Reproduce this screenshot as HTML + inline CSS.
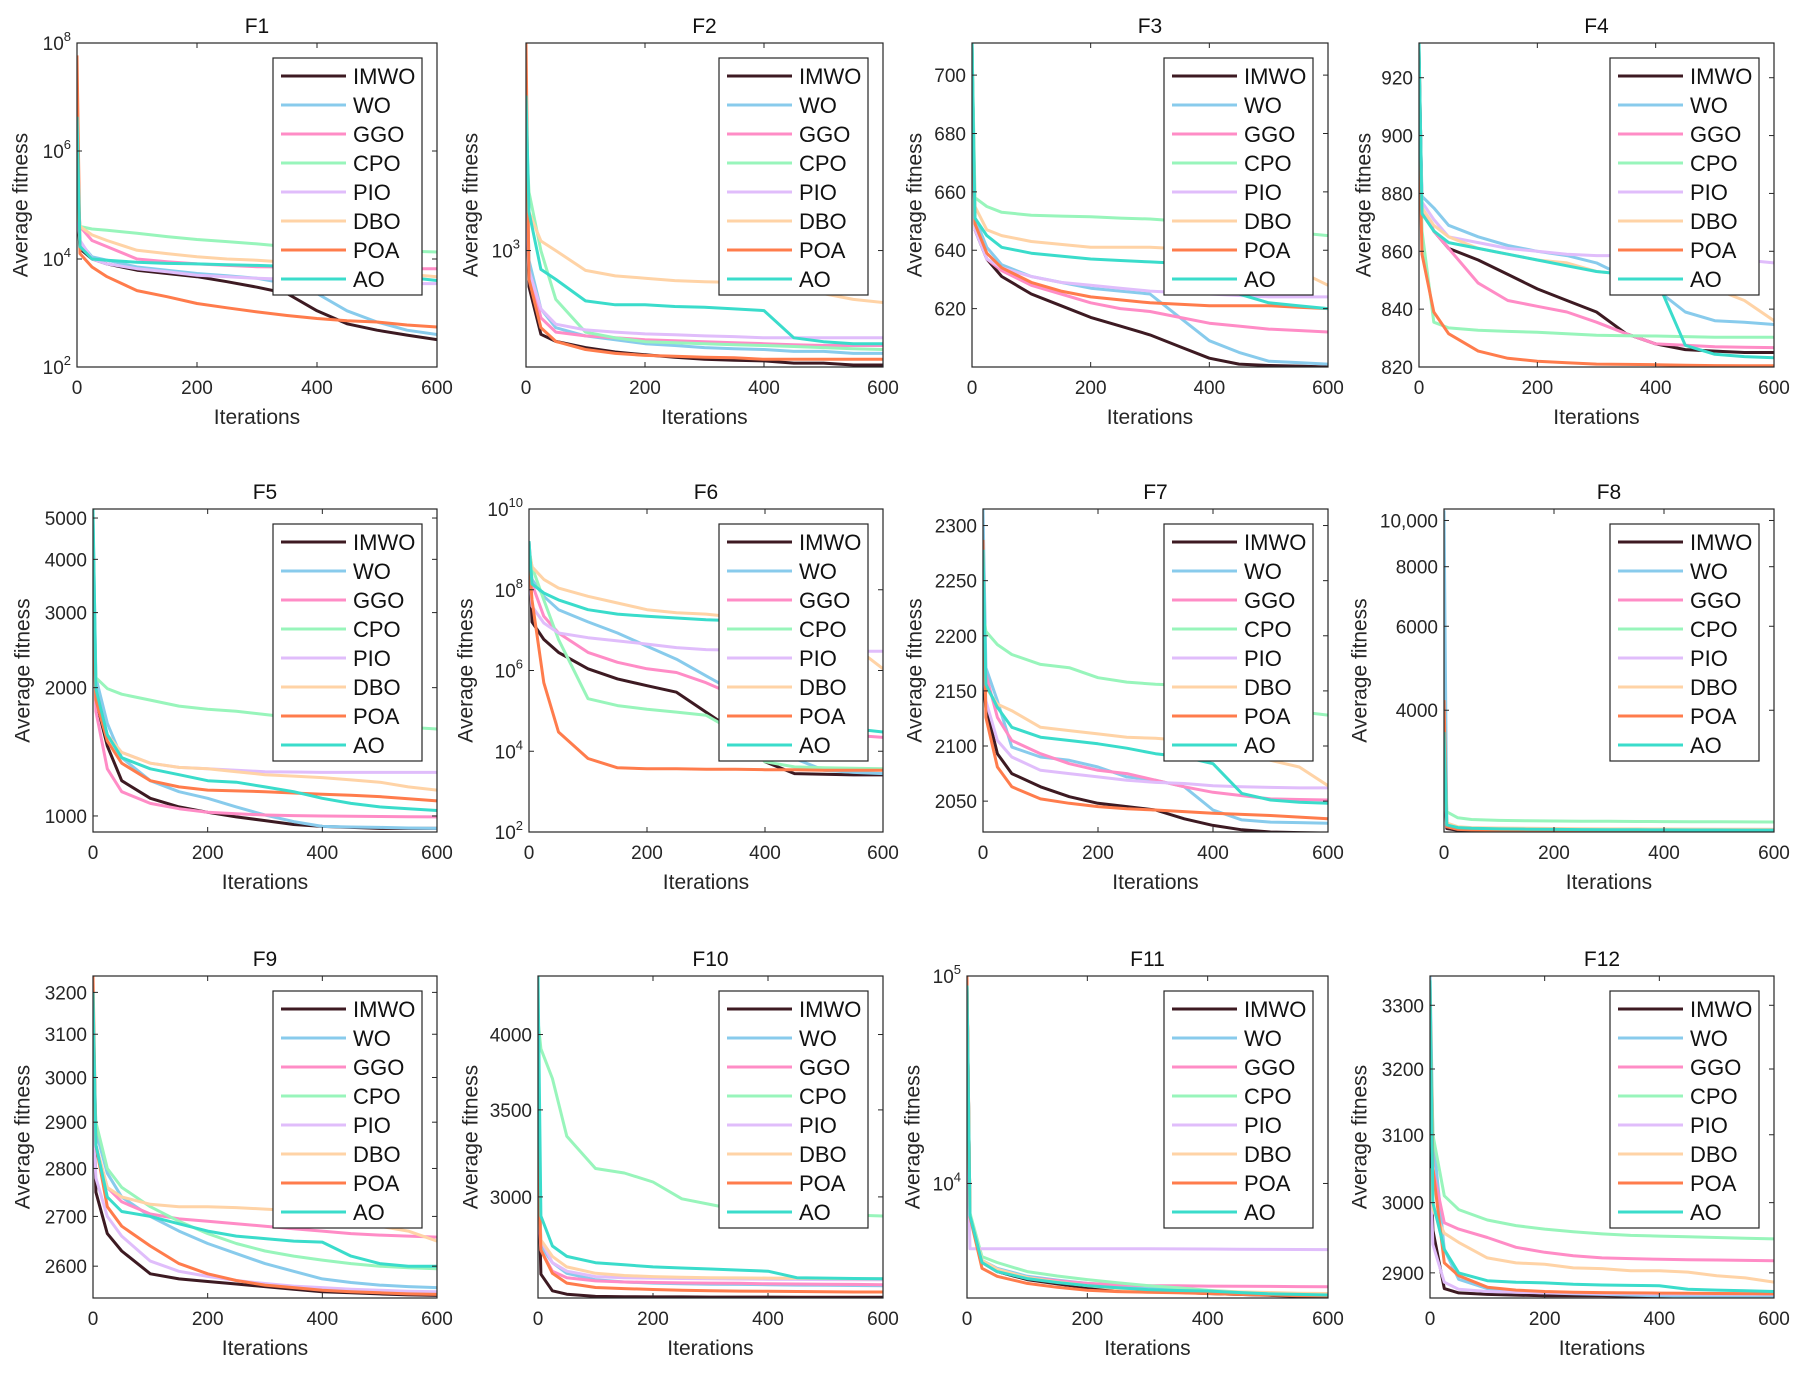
<!DOCTYPE html>
<html><head><meta charset="utf-8"><style>
html,body{margin:0;padding:0;background:#fff}
svg{display:block;font-family:"Liberation Sans",Arial,sans-serif}
</style></head><body>
<svg id="fig" width="1800" height="1376" viewBox="0 0 1800 1376" xmlns="http://www.w3.org/2000/svg"></svg>
<script>
const iterations = [0,5,25,50,100,150,200,250,300,350,400,450,500,550,600];
const seriesNames = ["IMWO","WO","GGO","CPO","PIO","DBO","POA","AO"];
const seriesColors = ["#3d1a22","#88cbec","#ff8cc6","#98f5bb","#e0bdfb","#ffd3a6","#ff7c4c","#3adccb"];
const axisTickLabelsX = ["0","200","400","600"];

const f1Values = [
 [1e5,1.55e4,1e4,8.1e3,6.2e3,5.4e3,4.7e3,3.8e3,3e3,2.3e3,1.1e3,630,480,390,320],
 [1.6e5,2e4,1.1e4,9.5e3,7.1e3,6.2e3,5.4e3,4.9e3,4.4e3,3.5e3,2.3e3,1.1e3,680,480,400],
 [3.2e5,4e4,2.2e4,1.7e4,1e4,8.9e3,8.1e3,7.6e3,7.2e3,7.1e3,7.1e3,6.9e3,6.8e3,6.6e3,6.6e3],
 [2e5,4e4,3.6e4,3.4e4,3e4,2.6e4,2.3e4,2.1e4,1.9e4,1.7e4,1.55e4,1.5e4,1.45e4,1.4e4,1.35e4],
 [7.9e4,2.2e4,1e4,8.1e3,6.6e3,5.8e3,5e3,4.7e3,4.4e3,4.2e3,4e3,3.8e3,3.6e3,3.5e3,3.5e3],
 [1e5,4e4,2.8e4,2.2e4,1.45e4,1.26e4,1.1e4,1e4,9.5e3,8.7e3,8.1e3,7.6e3,6.2e3,5.2e3,4.7e3],
 [5.9e7,1.26e4,7.1e3,4.7e3,2.6e3,2e3,1.5e3,1.25e3,1.05e3,900,790,720,680,600,550],
 [4.3e6,1.7e4,1e4,9.5e3,8.7e3,8.3e3,8.1e3,7.8e3,7.6e3,7.3e3,7.1e3,6.3e3,5.4e3,4.6e3,4e3]];
const f2Values = [
 [3160,650,370,340,316,300,290,282,275,272,270,263,263,257,257],
 [4000,890,500,400,363,347,331,324,316,312,309,302,302,295,295],
 [2000,790,450,380,363,355,347,343,339,335,331,327,324,324,324],
 [4000,2000,1000,560,380,355,339,335,331,327,324,320,316,312,309],
 [2500,790,500,417,390,380,372,368,363,360,355,355,355,355,355],
 [2000,1580,1120,1000,790,740,720,700,690,685,680,630,600,560,540],
 [11700,710,400,340,309,295,288,285,282,280,275,275,275,275,275],
 [6300,1580,800,710,550,525,525,515,510,500,490,355,339,331,331]];
const f3Values = [
 [711,647,637,631,625,621,617,614,611,607,603,601,600.5,600.3,600],
 [711,651,641,635,631,629,627,626,625,617,609,605,602,601.5,601],
 [700,649,637,633,628,625,622,620,619,617,615,614,613,612.5,612],
 [711,658,655,653,652,651.7,651.5,651,650.7,650,649,647,647,646,645],
 [705,647,637,634,631,629,628,627,626,625.5,625,624.5,624,624,624],
 [705,655,647,645,643,642,641,641,641,640.5,640,639,637,633,628],
 [700,649,639,634,629,626,624,623,622,621.5,621,621,621,620.5,620],
 [711,651,645,641,639,638,637,636.5,636,635.5,635,625,622,621,620]];
const f4Values = [
 [930,875,867,861,857,852,847,843,839,831.5,828,826,825.5,825,825],
 [925,879,875,869,865,862,860,858.5,856,851,847,839,836,835.5,834.7],
 [915,875,867,861,849,843,841,839,835.5,831.5,828,827.5,827,826.8,826.7],
 [920,867,835.5,833.5,832.7,832.3,832,831.5,831,830.8,830.7,830.5,830.3,830.3,830.3],
 [915,877,871,865,863,861,860,859,858.5,858.5,858,857,857,857,856],
 [920,875,869,865,861,859,857,856,853,852,851,849,847,843,836],
 [905,859,839,831.5,825.5,823,822,821.5,821,820.9,820.8,820.6,820.5,820.4,820.4],
 [932,873,867,863,861,859,857,855,853,852,851,827.5,824.4,823.6,823.2]];
const f5Values = [
 [4500,1870,1460,1210,1100,1050,1020,995,975,955,945,940,935,935,935],
 [5000,2110,1650,1370,1210,1140,1100,1050,1005,970,945,942,940,937,935],
 [4000,1760,1290,1140,1070,1040,1020,1012,1005,1002,1000,998,997,996,995],
 [4000,2110,1990,1930,1870,1810,1780,1760,1730,1700,1670,1650,1630,1615,1600],
 [3500,1990,1550,1410,1330,1300,1290,1280,1270,1268,1265,1265,1265,1265,1265],
 [3800,1930,1550,1410,1330,1300,1290,1270,1250,1240,1230,1215,1200,1170,1150],
 [3000,1870,1500,1330,1210,1170,1150,1145,1140,1132,1125,1118,1110,1098,1085],
 [5250,1990,1550,1370,1290,1250,1210,1200,1170,1140,1100,1070,1050,1040,1030]];
const f6Values = [
 [1.6e9,1.6e7,5.9e6,2.8e6,1.1e6,6.2e5,4.2e5,2.9e5,9.3e4,3e4,5.5e3,2.8e3,2.7e3,2.6e3,2.6e3],
 [1e9,1.8e8,6.9e7,3.2e7,1.6e7,8.5e6,4e6,1.9e6,7.4e5,2.9e5,4.4e4,6.6e3,3.4e3,3e3,2.8e3],
 [1.6e9,1.4e8,2.2e7,8.5e6,2.8e6,1.6e6,1.1e6,8.9e5,5e5,2.4e5,1.1e5,4.4e4,3e4,2.5e4,2.2e4],
 [1e9,3.7e8,5.6e7,5.9e6,2e5,1.35e5,1.1e5,9.3e4,7.8e4,3e4,5.5e3,4.1e3,3.9e3,3.8e3,3.7e3],
 [3.2e8,3.9e7,1.5e7,8.5e6,6.5e6,5.4e6,4.5e6,3.7e6,3.3e6,3.2e6,3.1e6,3.1e6,3e6,3e6,3e6],
 [1e9,3.7e8,1.8e8,1.1e8,6.9e7,4.7e7,3.2e7,2.7e7,2.5e7,2.1e7,1.8e7,1.26e7,8.5e6,4e6,1.1e6],
 [6.3e8,5.6e7,5e5,3e4,6.6e3,3.9e3,3.7e3,3.7e3,3.6e3,3.6e3,3.5e3,3.5e3,3.4e3,3.4e3,3.4e3],
 [1.6e9,1.4e8,8.3e7,5.6e7,3.2e7,2.5e7,2.2e7,2e7,1.8e7,1.7e7,5.9e6,4.2e5,5.2e4,3.6e4,3e4]];
const f7Values = [
 [2159,2135,2093,2075,2063,2054,2048,2045,2042,2034,2028,2024,2022,2021.5,2021],
 [2315,2171,2141,2099,2090,2087,2081,2072,2069,2063,2042,2033,2031,2030.5,2030],
 [2201,2165,2126,2105,2093,2084,2078,2075,2069,2063,2058,2055,2052,2051.5,2051],
 [2222,2204,2192,2183,2174,2171,2162,2158,2156,2155,2150,2141,2135,2131,2128],
 [2183,2141,2105,2090,2078,2075,2072,2069,2067,2066,2064,2063,2062.5,2062,2062],
 [2171,2153,2138,2132,2117,2114,2111,2108,2107,2105,2099,2093,2087,2081,2064],
 [2287,2126,2081,2063,2052,2048,2045,2043,2042,2040.5,2039,2038,2037,2035.5,2034],
 [2278,2156,2135,2117,2108,2105,2102,2098,2093,2090,2084,2057,2051,2049,2048]];
const f8Values = [
 [3000,2260,2240,2235,2232,2230,2229,2228,2228,2227,2227,2226,2226,2226,2226],
 [10500,2300,2260,2250,2245,2240,2238,2236,2235,2234,2233,2232,2232,2231,2231],
 [3500,2280,2255,2250,2248,2246,2245,2244,2244,2243,2243,2242,2242,2242,2242],
 [3500,2450,2380,2360,2350,2345,2343,2341,2340,2338,2336,2335,2334,2333,2332],
 [3200,2300,2270,2262,2258,2255,2254,2253,2252,2252,2251,2251,2250,2250,2250],
 [3300,2320,2280,2270,2265,2262,2260,2258,2256,2255,2254,2253,2252,2251,2250],
 [4200,2280,2250,2245,2242,2240,2239,2238,2237,2237,2236,2236,2236,2236,2236],
 [3600,2300,2270,2262,2256,2252,2250,2248,2247,2246,2245,2244,2244,2243,2243]];
const f9Values = [
 [3000,2750,2665,2630,2585,2575,2570,2565,2560,2555,2550,2548,2546,2544,2543],
 [3150,2880,2790,2740,2700,2670,2645,2625,2605,2590,2575,2568,2563,2560,2558],
 [3000,2850,2760,2730,2705,2695,2690,2685,2680,2675,2670,2665,2662,2660,2658],
 [3050,2900,2800,2760,2720,2690,2665,2645,2630,2620,2612,2605,2600,2597,2595],
 [2900,2780,2700,2660,2610,2590,2580,2572,2566,2561,2558,2555,2553,2551,2550],
 [3100,2850,2760,2740,2725,2720,2720,2718,2715,2712,2700,2690,2680,2670,2650],
 [3240,2850,2720,2680,2640,2605,2585,2572,2563,2558,2553,2550,2548,2546,2545],
 [3200,2850,2740,2710,2700,2685,2670,2660,2655,2650,2648,2620,2605,2600,2600]];
const f10Values = [
 [3200,2616,2540,2525,2515,2514,2513,2513,2512,2512,2512,2511,2511,2511,2511],
 [3500,2750,2670,2620,2590,2580,2575,2572,2570,2569,2568,2566,2565,2564,2563],
 [3000,2730,2630,2600,2585,2580,2578,2576,2575,2574,2572,2571,2570,2569,2568],
 [4100,3900,3700,3340,3155,3130,3080,2990,2960,2930,2915,2910,2908,2905,2900],
 [3000,2780,2670,2630,2605,2600,2598,2596,2595,2594,2593,2592,2591,2590,2590],
 [3100,2780,2700,2650,2620,2610,2605,2602,2600,2599,2598,2597,2596,2595,2595],
 [3300,2730,2620,2575,2555,2550,2546,2543,2540,2539,2538,2537,2536,2535,2535],
 [4437,2900,2750,2700,2670,2660,2650,2645,2640,2635,2630,2600,2598,2596,2595]];
const f11Values = [
 [9e4,6900,4160,3760,3440,3280,3140,3080,3030,2990,2950,2920,2890,2860,2840],
 [9e4,7000,4260,3900,3570,3420,3300,3220,3140,3070,3000,2970,2940,2920,2900],
 [9e4,7000,4160,3760,3520,3400,3300,3250,3220,3210,3200,3195,3190,3185,3180],
 [9e4,7200,4440,4160,3760,3580,3440,3320,3220,3140,3060,3000,2960,2930,2900],
 [2e4,4850,4850,4850,4850,4845,4845,4840,4840,4835,4830,4820,4810,4805,4800],
 [9e4,7000,4260,3860,3520,3350,3220,3110,3060,3040,3030,3000,2980,2960,2950],
 [1e5,6900,3900,3570,3300,3160,3060,3010,2990,2970,2950,2920,2900,2880,2870],
 [9e4,7000,4160,3760,3480,3330,3220,3140,3080,3050,3030,2980,2940,2920,2900]];
const f12Values = [
 [3100,2960,2878,2872,2870,2869,2868,2868,2868,2867.5,2867.5,2867.3,2867.2,2867.1,2867],
 [3350,3100,2933,2891,2878,2874,2872,2871,2870,2869,2868,2867.5,2867,2866.5,2866],
 [3200,3050,2971,2962,2950,2936,2929,2924,2921,2920,2919,2918.5,2918,2917.5,2917],
 [3300,3100,3010,2990,2975,2967,2962,2958,2955,2953,2952,2951,2950,2949,2948],
 [3050,2940,2887,2877,2874,2873,2872,2871.5,2871,2870.8,2870.6,2870.4,2870.2,2870.1,2870],
 [3050,2990,2956,2943,2921,2914,2912,2907,2906,2903,2903,2901,2896,2893,2887],
 [3330,3050,2914,2896,2880,2876,2874,2873,2872.5,2872,2871.8,2871.5,2871.3,2871.1,2871],
 [3340,3000,2933,2900,2889,2887,2886,2884,2883,2882.5,2882,2877,2876,2875,2874]];

const panels = [
 {title:"F1",data:f1Values,l:77,r:437,t:43,b:367,log:true,ymin:100,ymax:1e8,ticks:[1e2,1e4,1e6,1e8],exp:true,ylx:21},
 {title:"F2",data:f2Values,l:526,r:883,t:43,b:367,log:true,ymin:251,ymax:11750,ticks:[1e3],exp:true,ylx:471},
 {title:"F3",data:f3Values,l:972,r:1328,t:43,b:367,log:false,ymin:600,ymax:711,ticks:[620,640,660,680,700],ylx:915},
 {title:"F4",data:f4Values,l:1419,r:1774,t:43,b:367,log:false,ymin:820,ymax:932,ticks:[820,840,860,880,900,920],ylx:1364},
 {title:"F5",data:f5Values,l:93,r:437,t:509,b:832,log:true,ymin:917,ymax:5250,ticks:[1000,2000,3000,4000,5000],ylx:23},
 {title:"F6",data:f6Values,l:529,r:883,t:509,b:832,log:true,ymin:100,ymax:1e10,ticks:[1e2,1e4,1e6,1e8,1e10],exp:true,ylx:466},
 {title:"F7",data:f7Values,l:983,r:1328,t:509,b:832,log:false,ymin:2022,ymax:2315,ticks:[2050,2100,2150,2200,2250,2300],ylx:915},
 {title:"F8",data:f8Values,l:1444,r:1774,t:509,b:832,log:true,ymin:2222,ymax:10570,ticks:[4000,6000,8000,10000],comma:true,ylx:1360},
 {title:"F9",data:f9Values,l:93,r:437,t:976,b:1298,log:true,ymin:2538,ymax:3240,ticks:[2600,2700,2800,2900,3000,3100,3200],ylx:23},
 {title:"F10",data:f10Values,l:538,r:883,t:976,b:1298,log:true,ymin:2508,ymax:4437,ticks:[3000,3500,4000],ylx:471},
 {title:"F11",data:f11Values,l:967,r:1328,t:976,b:1298,log:true,ymin:2805,ymax:1e5,ticks:[1e4,1e5],exp:true,ylx:913},
 {title:"F12",data:f12Values,l:1430,r:1774,t:976,b:1298,log:true,ymin:2865,ymax:3347,ticks:[2900,3000,3100,3200,3300],ylx:1360}
];

const NS="http://www.w3.org/2000/svg";
const svg=document.getElementById('fig');
function mk(tag,attrs,parent){const e=document.createElementNS(NS,tag);for(const k in attrs)e.setAttribute(k,attrs[k]);(parent||svg).appendChild(e);return e;}
const TXT="#262626", AX="#262626";

panels.forEach((p,pi)=>{
  const g=mk('g',{});
  
  
  const xs=v=>p.l+(v/600)*(p.r-p.l);
  const tf=v=>p.log?Math.log10(v):v;
  const ys=v=>p.b-(tf(v)-tf(p.ymin))/(tf(p.ymax)-tf(p.ymin))*(p.b-p.t);
  // clip
  const cp=mk('clipPath',{id:'clip'+pi},g);
  mk('rect',{x:p.l,y:p.t,width:p.r-p.l,height:p.b-p.t},cp);
  // series
  const sg=mk('g',{'clip-path':'url(#clip'+pi+')'},g);
  p.data.forEach((vals,si)=>{
    const pts=vals.map((v,i)=>xs(iterations[i]).toFixed(1)+','+ys(v).toFixed(1)).join(' ');
    const pl=mk('polyline',{points:pts,fill:'none',stroke:seriesColors[si],'stroke-width':3,'stroke-linejoin':'round'},sg);
    
    
  });
  // box
  const box=mk('rect',{x:p.l,y:p.t,width:p.r-p.l,height:p.b-p.t,fill:'none',stroke:AX,'stroke-width':1.2},g);
  
  
  // x ticks
  axisTickLabelsX.forEach(lab=>{
    const x=xs(+lab);
    mk('line',{x1:x,x2:x,y1:p.b,y2:p.b-5,stroke:AX,'stroke-width':1},g);
    mk('line',{x1:x,x2:x,y1:p.t,y2:p.t+5,stroke:AX,'stroke-width':1},g);
    const t=mk('text',{x:x,y:p.b+27,'text-anchor':'middle','font-size':19,fill:TXT},g);
    t.textContent=lab;
    
    
  });
  // y ticks
  p.ticks.forEach(v=>{
    const y=ys(v);
    mk('line',{x1:p.l,x2:p.l+5,y1:y,y2:y,stroke:AX,'stroke-width':1},g);
    mk('line',{x1:p.r,x2:p.r-5,y1:y,y2:y,stroke:AX,'stroke-width':1},g);
    const t=mk('text',{x:p.l-6,y:y+7,'text-anchor':'end','font-size':19,fill:TXT},g);
    
    
    if(p.exp){
      const e=Math.round(Math.log10(v));
      const a=mk('tspan',{},t);a.textContent='10';
      const s=mk('tspan',{dy:-9,'font-size':13},t);s.textContent=String(e);
    } else {
      t.textContent=p.comma&&v>=10000?v.toLocaleString('en-US'):String(v);
    }
  });
  // title
  const ti=mk('text',{x:(p.l+p.r)/2,y:p.t-10,'text-anchor':'middle','font-size':21,fill:'#111'},g);
  ti.textContent=p.title;
  
  
  const xl=mk('text',{x:(p.l+p.r)/2,y:p.b+57,'text-anchor':'middle','font-size':21,fill:TXT},g);
  xl.textContent='Iterations';
  
  
  const cy=(p.t+p.b)/2;
  const yl=mk('text',{x:p.ylx,y:cy,'text-anchor':'middle','font-size':21,fill:TXT,'dominant-baseline':'central',transform:'rotate(-90 '+p.ylx+' '+cy+')'},g);
  yl.textContent='Average fitness';
  
  
  // legend
  const lx=p.r-15-149, ly=p.t+15;
  const lg=mk('g',{},g);
  
  
  mk('rect',{x:lx,y:ly,width:149,height:237,fill:'#fff',stroke:AX,'stroke-width':1.2},lg);
  seriesNames.forEach((n,si)=>{
    const yy=ly+18+si*29;
    const en=mk('g',{},lg);
    
    
    mk('line',{x1:lx+8,x2:lx+73,y1:yy,y2:yy,stroke:seriesColors[si],'stroke-width':3},en);
    const t=mk('text',{x:lx+80,y:yy+8,'font-size':22,fill:'#111'},en);
    t.textContent=n;
  });
});
</script>
</body></html>
